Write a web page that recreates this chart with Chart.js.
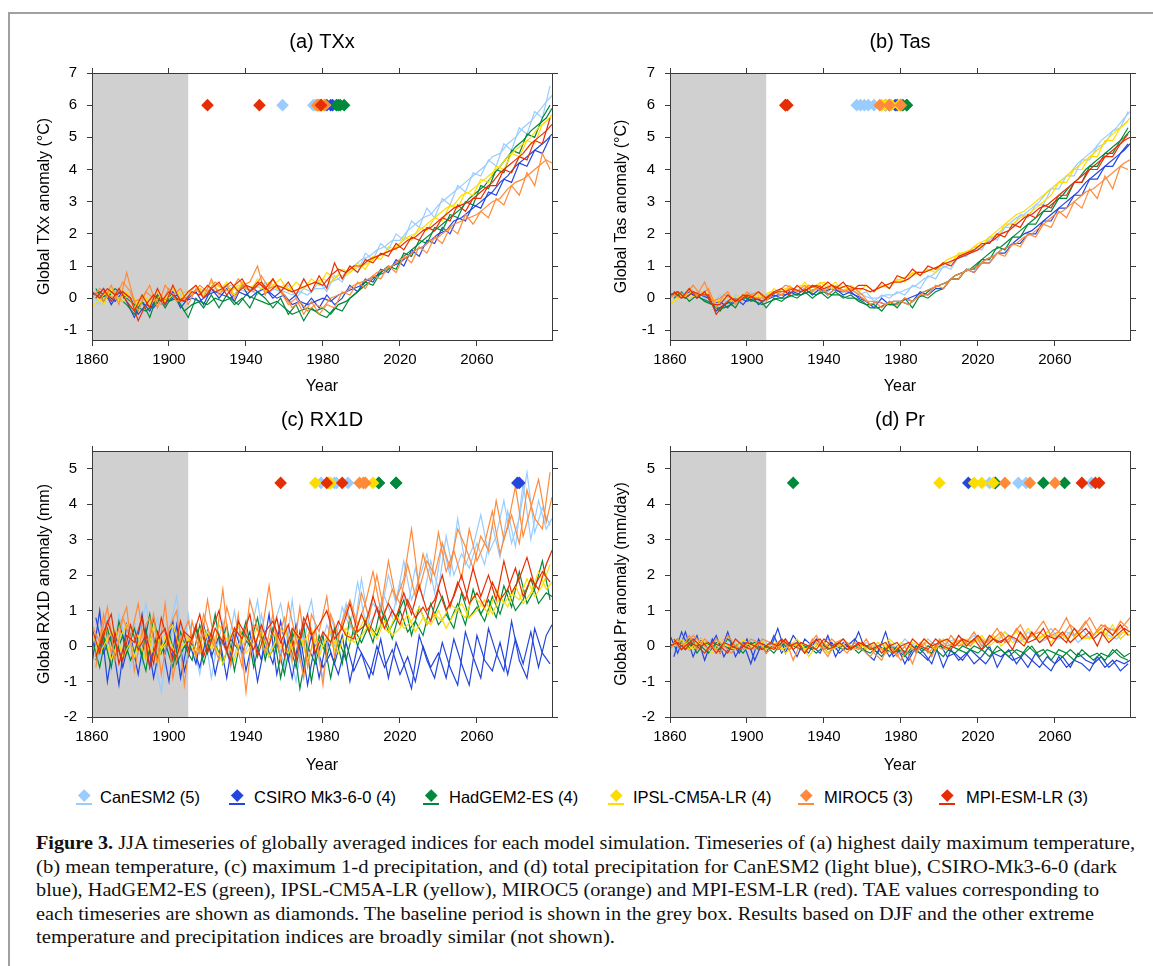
<!DOCTYPE html>
<html>
<head>
<meta charset="utf-8">
<script src="https://cdn.jsdelivr.net/npm/chart.js@4.4.1/dist/chart.umd.min.js"></script>
<style>
html,body{margin:0;padding:0;background:#fff;width:1153px;height:966px;overflow:hidden;position:relative;font-family:"Liberation Sans",Arial,sans-serif;}
.frame{position:absolute;left:8px;top:12px;width:1200px;height:1000px;border-top:2px solid #a0a0a0;border-left:2px solid #a0a0a0;}
canvas{position:absolute;}
.legtxt{position:absolute;font-size:16.5px;line-height:20px;white-space:nowrap;color:#000;}
.legmk{position:absolute;width:8.5px;height:8.5px;transform:rotate(45deg);}
.legln{position:absolute;width:16px;height:1.5px;}
.cap{position:absolute;left:36px;font-family:"Liberation Serif","Times New Roman",serif;font-size:18.5px;line-height:23.5px;white-space:nowrap;color:#111;}
.cap span{display:inline-block;transform-origin:0 50%;}
</style>
</head>
<body>
<div class="frame"></div>
<script>
// ---------------- data ----------------
const MODELS = ["CanESM2 (5)", "CSIRO Mk3-6-0 (4)", "HadGEM2-ES (4)", "IPSL-CM5A-LR (4)", "MIROC5 (3)", "MPI-ESM-LR (3)"];
const COLORS = ["#99ccff", "#2446dc", "#00893b", "#ffdc00", "#ff8a3a", "#e62e05"];
// run 1 sampled years
const YEARS = [1860,1864,1868,1872,1876,1880,1884,1888,1892,1896,1900,1904,1908,
  1912,1916,1920,1924,1928,1932,1936,1940,1944,1948,1952,1956,
  1960,1964,1968,1972,1976,1980,1984,1988,1992,1996,2000,2004,2008,
  2012,2016,2020,2024,2028,2032,2036,2040,2044,2048,2052,2056,
  2060,2064,2068,2072,2076,2080,2084,2088,2092,2096,2099];
// run 2 sampled years
const YEARS2 = [1862,1866,1870,1874,1878,1882,1886,1890,1894,1898,1902,1906,1910,
  1914,1918,1922,1926,1930,1934,1938,1942,1946,1950,1954,1958,
  1962,1966,1970,1974,1978,1982,1986,1990,1994,1998,2002,2006,2010,
  2014,2018,2022,2026,2030,2034,2038,2042,2046,2050,2054,2058,
  2062,2066,2070,2074,2078,2082,2086,2090,2094,2098];
const X_TICKS = [1860,1900,1940,1980,2020,2060];
const Y_TICKS_TEMP = [-1,0,1,2,3,4,5,6,7];
const Y_TICKS_PREC = [-2,-1,0,1,2,3,4,5];
const BASELINE = [1860, 1910];

// (a) TXx, run 1
const TXX_CAN   = [0.1,-0.2,0.1,0.2,0.0,0.1,-0.3,-0.1,0.0,-0.2,0.1,0.0,0.2, 0.2,0.3,0.1,0.3,0.2,0.4,0.3,0.2,0.3,0.4,0.2,0.3, 0.2,0.1,0.2,0.1,0.3,0.3,0.5,0.6,0.8,1.0,1.2,1.3,1.5, 1.6,1.8,1.8,2.1,2.3,2.5,2.6,2.9,3.1,3.3,3.5,3.7, 3.9,4.1,4.4,4.5,4.8,5.0,5.3,5.5,5.8,6.1,6.3];
const TXX_CSIRO = [0.2,0.0,0.1,-0.1,0.2,0.0,-0.5,-0.2,-0.3,0.0,-0.1,0.1,-0.1, 0.0,-0.1,0.1,0.2,0.1,0.0,0.2,0.1,0.3,0.1,0.2,0.0, 0.1,-0.2,-0.1,-0.2,-0.1,0.0,-0.1,0.1,0.2,0.3,0.4,0.6,0.7, 0.9,1.0,1.1,1.3,1.5,1.6,1.8,2.0,2.1,2.4,2.5,2.7, 2.9,3.1,3.3,3.6,3.8,4.1,4.3,4.5,4.7,4.9,5.1];
const TXX_HAD   = [0.1,0.2,0.0,0.3,0.1,-0.1,-0.3,-0.4,-0.2,0.0,-0.1,0.0,-0.4, -0.2,-0.1,-0.2,0.0,-0.1,0.0,-0.2,0.1,0.0,-0.1,-0.2,-0.1, -0.3,-0.5,-0.4,-0.3,-0.4,-0.3,-0.5,-0.2,-0.1,0.1,0.3,0.5,0.7, 0.8,1.0,1.2,1.4,1.6,1.8,2.0,2.2,2.4,2.6,2.8,3.1, 3.3,3.5,3.8,4.1,4.4,4.7,4.9,5.2,5.4,5.6,5.9];
const TXX_IPSL  = [-0.3,0.0,0.2,0.1,-0.1,0.2,-0.2,0.0,-0.1,0.1,0.0,0.2,0.1, 0.2,0.3,0.2,0.4,0.3,0.2,0.4,0.3,0.4,0.3,0.5,0.3, 0.4,0.2,0.3,0.4,0.5,0.6,0.5,0.7,0.7,0.9,1.0,1.1,1.3, 1.4,1.5,1.7,1.9,2.0,2.2,2.4,2.6,2.8,2.9,3.2,3.3, 3.5,3.7,3.9,4.1,4.4,4.6,4.8,5.0,5.3,5.5,5.7];
const TXX_MIROC = [0.0,0.3,0.1,0.0,0.5,0.2,-0.4,0.2,0.0,-0.2,0.3,-0.1,0.0, 0.1,0.4,0.2,0.5,0.3,0.2,0.6,0.3,0.2,0.7,0.3,0.4, 0.1,-0.3,-0.1,-0.4,-0.2,-0.3,0.0,0.1,0.2,0.4,0.5,0.6,0.8, 0.9,1.0,1.2,1.3,1.5,1.6,1.8,1.9,2.1,2.3,2.4,2.5, 2.6,2.8,3.0,3.1,3.4,3.6,3.7,3.9,4.1,4.3,4.2];
const TXX_MPI   = [0.2,0.0,0.3,0.1,0.2,0.0,-0.7,-0.2,0.1,-0.1,0.2,0.0,-0.1, 0.2,0.1,0.4,0.2,0.3,0.5,0.2,0.4,0.3,0.5,0.2,0.4, 0.3,0.2,0.3,0.4,0.5,0.4,0.7,0.9,0.8,1.0,1.0,1.2,1.3, 1.4,1.5,1.6,1.8,1.9,2.1,2.2,2.4,2.6,2.8,2.9,3.0, 3.2,3.4,3.6,3.9,4.1,4.3,4.5,4.8,5.0,5.2,5.4];
// (a) TXx, run 2
const TXX_CAN_2   = [-0.2,0.2,-0.1,0.3,-0.1,-0.4,0.1,-0.3,0.2,-0.1,0.3,-0.2,0.1, 0.4,0.1,0.5,0.2,0.4,0.1,0.5,0.3,0.1,0.5,0.3,0.2, 0.4,0.0,0.3,0.2,0.5,0.2,0.7,0.5,1.0,0.8,1.4,1.2,1.7, 1.5,2.0,1.8,2.4,2.2,2.8,2.5,3.1,2.9,3.5,3.3,3.9, 3.8,4.3,4.1,4.8,4.6,5.3,5.1,5.8,5.6,6.6];
const TXX_CSIRO_2 = [0.0,0.3,-0.2,0.2,-0.1,-0.6,-0.1,-0.4,0.1,-0.2,0.2,-0.3,0.0, 0.2,-0.2,0.3,0.0,0.3,-0.1,0.4,0.0,0.2,0.3,0.0,0.2, -0.1,0.1,-0.3,0.0,-0.3,0.1,-0.2,0.0,0.4,0.2,0.6,0.5,0.9, 0.8,1.2,1.0,1.5,1.3,1.8,1.7,2.2,2.0,2.5,2.4,2.9, 2.8,3.3,3.2,3.7,3.6,4.2,4.1,4.6,4.5,5.0];
const TXX_HAD_2   = [0.3,-0.1,0.2,0.0,-0.2,-0.5,-0.1,-0.6,0.1,-0.3,0.1,-0.2,-0.6, 0.0,-0.3,0.1,-0.3,0.1,-0.2,0.0,-0.3,0.2,0.0,-0.3,0.0, -0.5,-0.2,-0.7,-0.3,-0.5,-0.6,-0.3,-0.4,0.0,0.2,0.5,0.4,0.8, 1.0,0.9,1.4,1.3,1.8,1.7,2.2,2.1,2.6,2.5,3.0,2.9, 3.5,3.4,4.0,3.9,4.6,4.5,5.1,5.0,5.6,6.0];
const TXX_IPSL_2  = [0.1,-0.2,0.3,-0.1,0.2,-0.3,0.1,-0.2,0.2,-0.1,0.3,0.0,0.2, 0.4,0.1,0.5,0.2,0.5,0.1,0.5,0.2,0.6,0.2,0.4,0.6, 0.2,0.5,0.3,0.6,0.4,0.8,0.6,0.9,0.8,1.1,0.9,1.3,1.2, 1.6,1.5,1.9,1.8,2.2,2.1,2.5,2.4,2.9,2.8,3.3,3.2, 3.7,3.6,4.1,4.0,4.5,4.4,4.9,4.8,5.4,5.6];
const TXX_MIROC_2 = [0.2,-0.1,0.4,-0.2,0.8,-0.1,0.0,0.4,-0.3,0.4,0.1,0.3,-0.2, 0.3,0.0,0.6,0.1,0.4,0.0,0.4,0.5,1.0,0.1,0.6,0.2, -0.2,0.0,-0.5,-0.1,-0.5,-0.2,-0.3,0.2,0.1,0.5,0.3,0.7,0.6, 1.0,0.8,1.3,1.1,1.6,1.4,1.9,1.7,2.2,2.0,2.6,2.3, 2.7,2.5,3.1,2.9,3.5,3.2,3.9,3.5,4.5,4.0];
const TXX_MPI_2   = [0.0,0.3,-0.1,0.3,-0.1,-0.4,0.1,-0.3,0.3,-0.2,0.4,-0.1,0.2, 0.4,0.0,0.3,0.5,0.1,0.4,0.6,0.2,0.5,0.3,0.6,0.2, 0.5,0.1,0.6,0.2,0.7,0.3,1.1,0.6,1.0,0.8,1.2,1.1,1.4, 1.3,1.7,1.5,1.9,1.8,2.2,2.1,2.5,2.4,2.9,2.7,3.1, 3.1,3.5,3.5,4.0,3.9,4.4,4.3,4.9,4.8,5.6];

// (b) Tas, run 1
const TAS_CAN   = [0.1,0.0,0.2,0.1,0.2,0.0,-0.3,-0.1,0.0,-0.1,0.1,0.0,0.1, 0.1,0.2,0.1,0.2,0.2,0.3,0.2,0.3,0.3,0.2,0.3,0.2, 0.1,0.0,0.0,0.1,0.1,0.2,0.3,0.4,0.6,0.7,0.9,1.0,1.2, 1.3,1.4,1.6,1.7,1.9,2.1,2.3,2.5,2.6,2.8,3.0,3.3, 3.5,3.7,3.9,4.2,4.4,4.6,4.9,5.1,5.3,5.6,5.8];
const TAS_CSIRO = [0.1,0.2,0.0,0.2,0.1,0.0,-0.4,-0.2,-0.1,0.0,-0.1,0.0,-0.1, 0.0,0.1,0.1,0.2,0.1,0.2,0.3,0.2,0.3,0.2,0.2,0.1, 0.0,-0.2,-0.1,-0.2,-0.1,-0.1,0.0,0.1,0.2,0.3,0.4,0.5,0.7, 0.8,0.9,1.0,1.2,1.3,1.5,1.6,1.8,2.0,2.1,2.3,2.5, 2.7,2.9,3.1,3.3,3.6,3.8,4.0,4.2,4.4,4.6,4.8];
const TAS_HAD   = [0.1,0.1,0.0,0.2,0.0,-0.1,-0.3,-0.3,-0.2,0.0,0.0,-0.1,-0.2, -0.1,0.0,0.0,0.1,0.1,0.2,0.1,0.2,0.1,0.1,0.0,0.0, -0.1,-0.3,-0.3,-0.2,-0.2,-0.1,-0.2,0.0,0.1,0.3,0.4,0.5,0.7, 0.8,0.9,1.1,1.3,1.5,1.6,1.8,2.0,2.2,2.4,2.6,2.8, 3.0,3.2,3.5,3.7,4.0,4.2,4.4,4.6,4.8,5.0,5.2];
const TAS_IPSL  = [-0.2,0.0,0.1,0.2,0.1,0.1,-0.2,0.0,-0.1,0.0,0.1,0.0,0.1, 0.2,0.2,0.3,0.3,0.4,0.3,0.4,0.5,0.3,0.4,0.3,0.3, 0.3,0.2,0.3,0.4,0.5,0.6,0.7,0.8,0.8,0.9,1.0,1.2,1.3, 1.4,1.5,1.7,1.8,2.0,2.2,2.4,2.6,2.7,2.9,3.1,3.3, 3.5,3.7,3.9,4.1,4.3,4.5,4.7,5.0,5.2,5.4,5.6];
const TAS_MIROC = [0.0,0.2,0.1,0.4,0.1,0.3,-0.3,0.1,0.0,-0.1,0.2,0.0,0.0, 0.1,0.2,0.4,0.3,0.2,0.4,0.3,0.2,0.4,0.3,0.2,0.3, 0.1,-0.2,-0.1,-0.2,-0.1,-0.1,-0.2,0.0,0.2,0.3,0.4,0.5,0.7, 0.8,0.9,1.0,1.2,1.3,1.5,1.6,1.7,1.9,2.0,2.2,2.4, 2.6,2.7,2.9,3.1,3.3,3.4,3.6,3.8,4.0,4.2,4.3];
const TAS_MPI   = [0.1,0.2,0.0,0.2,0.1,0.1,-0.5,-0.2,0.0,-0.1,0.1,0.0,-0.1, 0.1,0.2,0.2,0.3,0.2,0.3,0.4,0.3,0.4,0.3,0.4,0.3, 0.3,0.2,0.3,0.4,0.5,0.5,0.6,0.8,0.8,0.9,1.0,1.1,1.2, 1.3,1.4,1.5,1.7,1.8,2.0,2.1,2.3,2.5,2.6,2.8,2.9, 3.1,3.3,3.5,3.7,3.9,4.1,4.3,4.5,4.7,4.9,5.0];
// (b) Tas, run 2
const TAS_CAN_2   = [0.0,0.2,-0.1,0.2,0.0,-0.2,0.1,-0.2,0.1,0.0,0.2,-0.1,0.1, 0.2,0.1,0.3,0.2,0.3,0.1,0.3,0.2,0.4,0.2,0.3,0.1, 0.2,-0.1,0.1,0.0,0.2,0.1,0.4,0.3,0.7,0.6,1.0,0.9,1.3, 1.3,1.6,1.5,1.9,1.8,2.2,2.2,2.6,2.5,2.9,2.9,3.4, 3.4,3.8,3.8,4.3,4.3,4.7,4.8,5.2,5.3,5.8];
const TAS_CSIRO_2 = [0.2,0.0,0.2,0.0,0.2,-0.2,-0.1,-0.3,0.0,-0.2,0.1,-0.2,0.0, 0.1,0.0,0.2,0.1,0.3,0.1,0.3,0.1,0.3,0.1,0.2,0.0, -0.1,-0.3,0.0,-0.2,-0.2,0.0,-0.1,0.2,0.1,0.3,0.3,0.6,0.6, 0.9,0.8,1.1,1.1,1.4,1.4,1.7,1.7,2.0,2.0,2.4,2.4, 2.8,2.8,3.2,3.2,3.7,3.7,4.1,4.1,4.5,4.8];
const TAS_HAD_2   = [0.0,0.2,-0.1,0.1,-0.1,-0.2,-0.4,-0.1,-0.3,0.1,-0.1,0.0,-0.3, 0.0,-0.1,0.1,0.0,0.2,0.0,0.2,0.0,0.2,0.0,0.1,-0.1, -0.2,-0.2,-0.4,-0.1,-0.3,0.0,-0.3,0.1,0.0,0.2,0.3,0.6,0.6, 0.9,0.9,1.2,1.2,1.6,1.5,1.9,1.9,2.3,2.3,2.7,2.7, 3.1,3.1,3.6,3.6,4.1,4.1,4.5,4.5,4.9,5.3];
const TAS_IPSL_2  = [-0.1,0.1,0.0,0.1,0.2,0.0,-0.1,0.1,0.0,0.1,0.0,0.1,0.0, 0.3,0.1,0.4,0.2,0.5,0.2,0.5,0.3,0.5,0.2,0.4,0.2, 0.4,0.2,0.4,0.3,0.6,0.5,0.8,0.7,0.9,0.8,1.1,1.1,1.4, 1.4,1.6,1.6,1.9,1.9,2.3,2.3,2.5,2.6,2.8,3.0,3.2, 3.6,3.6,4.0,4.0,4.4,4.4,4.9,4.9,5.3,5.5];
const TAS_MIROC_2 = [0.1,0.0,0.3,0.1,0.5,-0.1,0.0,0.2,-0.2,0.1,0.1,0.2,-0.1, 0.2,0.1,0.3,0.2,0.4,0.2,0.4,0.1,0.3,0.2,0.3,0.1, -0.1,-0.1,-0.3,-0.1,-0.2,0.0,-0.1,0.1,0.1,0.4,0.3,0.6,0.6, 0.9,0.8,1.1,1.1,1.4,1.3,1.7,1.6,2.0,1.9,2.3,2.2, 2.7,2.5,3.0,2.8,3.4,3.1,3.8,3.4,4.1,4.0];
const TAS_MPI_2   = [0.2,0.0,0.3,0.0,0.2,-0.2,-0.2,0.1,-0.1,0.1,0.0,0.2,0.0, 0.2,0.3,0.1,0.4,0.2,0.4,0.3,0.5,0.3,0.5,0.2,0.4, 0.4,0.2,0.5,0.3,0.7,0.6,0.9,0.7,1.0,0.9,1.1,1.0,1.3, 1.4,1.5,1.7,1.7,2.0,1.9,2.3,2.2,2.6,2.5,2.9,2.8, 3.2,3.2,3.6,3.6,4.0,4.0,4.4,4.4,4.8,5.1];

// (c) RX1D, run 1
const RX_CAN   = [0.3,-0.4,0.8,-0.2,0.5,-0.6,0.2,1.2,-0.3,-1.3,0.4,1.4,-0.5, 0.2,-0.8,0.5,-0.3,0.7,-0.6,0.1,0.4,-0.5,0.9,-0.2,0.3, -0.6,1.3,-0.4,0.6,0.1,-0.9,0.8,0.2,1.2,0.3,1.9,0.6,1.0, 1.4,0.8,1.8,1.1,2.2,1.3,2.4,1.6,3.1,2.0,2.6,2.2, 2.9,2.3,3.4,2.5,3.8,2.8,4.6,3.0,4.1,3.3,3.6];
const RX_CSIRO = [-0.5,1.0,-1.0,0.4,-0.6,0.3,-0.8,0.5,-0.9,0.2,-1.0,0.6,-0.7, 0.1,-0.6,0.4,-0.8,0.2,-0.5,0.7,-0.7,0.3,-0.4,0.9,-0.8, 0.2,-0.9,0.4,-1.1,0.1,-0.6,-0.2,-0.8,0.1,-0.7,-0.2,-0.9,0.0, -0.6,-0.1,-0.8,-0.3,-1.0,0.0,-0.6,-0.2,-0.9,0.2,-0.5,-1.1, 0.3,-0.4,-0.7,0.1,-0.8,0.2,-0.5,0.4,-0.6,0.3,0.6];
const RX_HAD   = [0.2,-0.6,0.5,-0.3,0.3,-0.4,0.1,-0.7,0.8,-0.2,0.4,-0.5,0.0, -0.4,0.6,-0.2,0.9,-0.5,0.2,-0.1,0.7,-0.6,0.3,-0.3,0.1, -0.8,0.4,-1.2,0.0,-0.5,0.3,-0.9,0.2,-0.4,0.5,0.1,0.6,0.3, 0.9,0.2,1.0,0.4,0.7,0.3,1.2,0.6,0.9,0.5,1.5,0.8, 1.1,0.7,1.4,0.9,1.6,1.0,1.3,1.9,1.2,1.5,1.4];
const RX_IPSL  = [0.4,-0.2,0.2,0.5,-0.3,0.1,0.3,-0.4,0.6,-0.1,0.2,-0.3,0.3, 0.1,-0.2,0.4,0.0,-0.5,0.3,0.6,-0.2,0.1,0.4,-0.3,0.2, 0.5,-0.1,0.3,-0.4,0.2,0.0,0.4,-0.2,0.5,0.1,0.3,0.6,0.2, 0.7,0.3,0.5,0.9,0.4,0.8,0.6,1.0,0.5,0.9,1.2,0.8, 1.0,1.3,0.9,1.4,1.1,1.7,1.2,1.5,2.1,1.6,1.8];
const RX_MIROC = [0.6,0.1,1.1,-0.4,0.8,0.2,1.2,-0.3,0.9,-0.8,0.5,1.0,-1.1, 0.7,-0.2,1.3,0.0,1.6,-0.5,0.9,-1.3,0.6,0.3,1.7,0.1, 0.8,-0.4,1.1,-0.6,0.5,-1.1,0.9,0.3,1.0,0.4,1.5,0.8,2.0, 0.9,1.6,1.2,2.3,1.4,2.6,1.8,3.2,2.1,2.7,1.9,3.3, 2.4,2.9,3.8,2.6,3.4,4.5,3.1,3.9,4.7,3.5,4.2];
const RX_MPI   = [0.5,-0.2,0.7,0.1,-0.4,0.6,-0.1,0.3,-0.5,0.8,0.0,-0.3,0.4, 0.2,0.9,-0.2,0.5,0.1,-0.4,0.7,0.3,-0.1,0.6,0.0,0.8, -0.3,0.5,0.2,0.9,-0.2,0.4,0.1,0.7,0.3,0.2,0.9,0.4,1.1, 0.5,1.0,0.6,1.3,0.8,1.1,0.7,1.6,1.0,1.4,2.0,1.2, 1.5,1.1,1.8,1.3,1.6,2.2,1.4,1.9,1.6,2.3,2.7];
// (c) RX1D, run 2
const RX_CAN_2   = [-0.3,0.6,-0.7,0.9,-0.1,0.7,-0.5,0.3,0.8,-0.4,0.5,-0.8,0.9, -0.4,0.6,-0.9,0.3,-0.2,1.0,-0.4,0.2,1.3,-0.3,0.5,1.2, 0.0,-1.0,0.5,1.3,-0.2,0.6,0.0,1.1,0.5,1.8,0.7,1.2,0.9, 2.0,1.2,2.4,1.3,1.9,2.6,1.5,2.9,2.0,3.6,2.3,2.8, 3.7,2.6,3.1,4.1,2.9,3.6,4.9,3.2,3.9,3.4];
const RX_CSIRO_2 = [0.8,-0.2,0.3,-1.1,0.6,-0.3,0.9,-0.6,0.4,-0.2,0.7,-0.9,0.2, -0.5,0.6,-0.3,0.3,-0.9,0.5,-0.2,0.4,-1.0,0.1,-0.5,0.7, -0.4,0.6,-0.7,0.3,-0.9,0.2,-0.5,0.3,-1.0,0.0,-0.4,-0.8,0.2, -0.9,0.1,-0.5,-1.2,0.3,-0.4,-0.9,0.1,-0.6,-1.1,0.4,-0.3, -0.9,0.5,-0.2,-0.7,0.7,-0.4,-0.9,0.5,-0.2,-0.5];
const RX_HAD_2   = [-0.4,0.3,-0.6,0.7,-0.2,0.5,-0.3,0.9,-0.4,0.1,-0.6,0.4,-0.2, 0.5,-0.5,0.3,-0.2,0.6,-0.7,0.4,0.0,0.8,-0.4,0.5,-0.9, 0.2,-0.6,0.6,-1.0,0.3,-0.3,0.5,-0.5,0.8,0.0,0.7,0.1,1.1, 0.4,0.8,1.3,0.3,1.1,0.6,0.9,1.4,0.7,1.2,0.6,1.6, 0.9,1.3,0.8,1.7,1.1,2.1,1.2,1.6,2.4,1.3];
const RX_IPSL_2  = [-0.2,0.5,-0.4,0.2,0.6,-0.3,0.4,0.1,-0.5,0.3,0.6,-0.1,0.2, -0.3,0.5,-0.1,0.6,0.2,-0.4,0.3,0.1,0.5,-0.2,0.4,0.0, -0.2,0.4,0.1,0.5,-0.3,0.3,-0.1,0.6,0.1,0.4,0.8,0.3,0.6, 0.4,0.9,0.5,0.7,1.1,0.6,0.9,0.7,1.2,1.0,0.8,1.4, 1.2,0.9,1.6,1.2,1.5,1.3,1.9,1.4,1.7,2.3];
const RX_MIROC_2 = [-0.6,0.9,-0.2,0.5,1.1,-0.7,0.4,0.8,-0.5,1.2,-0.9,0.2,0.7, -0.3,0.9,0.2,-0.4,1.1,0.3,-0.6,1.3,0.5,-0.2,0.9,-0.4, 1.2,0.2,-0.9,0.9,0.4,1.4,-0.3,0.7,1.3,0.6,1.2,2.1,1.0, 2.4,1.3,1.9,3.3,1.6,2.4,2.0,2.9,2.2,3.3,2.8,2.2, 3.1,2.7,4.1,3.0,3.7,2.9,4.4,3.6,3.3,4.9];
const RX_MPI_2   = [-0.3,0.4,0.9,-0.5,0.3,0.1,0.8,-0.6,0.2,0.5,-0.4,0.7,-0.1, 0.6,-0.3,0.4,1.0,-0.1,0.5,0.2,0.9,-0.3,0.4,0.7,0.1, 0.6,-0.4,0.8,0.3,0.6,1.0,0.2,0.5,1.2,0.4,0.6,1.4,0.7, 1.2,0.8,1.5,0.9,1.7,1.0,1.3,2.0,1.1,1.8,1.3,2.2, 1.4,2.0,1.3,2.4,1.5,1.9,2.5,1.7,2.1,1.8];

// (d) Pr, run 1
const PR_CAN   = [0.1,-0.1,0.2,0.0,0.1,-0.1,0.0,0.2,-0.1,0.1,0.0,-0.1,0.2, 0.0,0.1,-0.1,0.1,0.0,0.0,0.1,-0.1,0.0,0.1,-0.1,0.0, 0.0,-0.1,0.1,-0.2,0.0,-0.1,0.1,0.0,-0.1,0.1,0.0,0.1,0.2, 0.0,0.1,0.2,0.0,0.2,0.1,0.3,0.1,0.2,0.3,0.1,0.2, 0.3,0.2,0.4,0.1,0.3,0.2,0.4,0.3,0.2,0.4,0.3];
const PR_CSIRO = [0.3,-0.2,0.4,-0.3,0.2,-0.1,0.3,-0.3,0.1,-0.2,0.2,-0.4,0.1, -0.1,0.5,-0.2,0.3,0.0,-0.2,0.2,-0.1,0.1,-0.2,0.0,0.2, -0.1,0.0,-0.2,0.4,-0.3,-0.1,-0.4,0.0,-0.2,-0.5,0.1,-0.3,-0.2, -0.4,-0.1,-0.3,-0.5,-0.2,-0.3,-0.1,-0.5,-0.2,-0.4,-0.6,-0.3, -0.5,-0.3,-0.6,-0.2,-0.4,-0.5,-0.3,-0.6,-0.4,-0.5,-0.4];
const PR_HAD   = [0.0,0.2,-0.1,0.1,0.0,-0.2,0.1,0.0,-0.1,0.1,0.0,0.1,-0.1, 0.0,-0.1,0.1,0.0,-0.1,0.0,-0.2,0.0,-0.1,0.1,-0.1,0.0, -0.1,-0.2,0.0,-0.1,-0.2,-0.1,-0.2,0.0,-0.1,-0.2,0.0,-0.1,-0.2, 0.0,-0.1,-0.2,0.0,-0.2,-0.1,-0.3,-0.1,-0.2,0.0,-0.3,-0.1, -0.2,-0.3,-0.1,-0.3,-0.2,-0.4,-0.2,-0.3,-0.1,-0.3,-0.2];
const PR_IPSL  = [0.1,0.0,0.1,-0.1,0.2,0.0,-0.1,0.1,0.0,0.1,-0.1,0.0,0.1, 0.0,0.1,-0.2,0.0,0.1,-0.3,0.0,0.1,-0.1,0.0,0.1,-0.1, 0.0,-0.1,0.1,0.0,-0.2,0.1,0.0,-0.1,0.2,0.0,0.1,-0.1,0.2, 0.1,0.0,0.2,0.1,0.3,0.0,0.2,0.4,0.1,0.3,0.2,0.4, 0.2,0.3,0.1,0.4,0.2,0.3,0.5,0.2,0.3,0.4,0.3];
const PR_MIROC = [-0.1,0.2,0.0,0.3,0.1,-0.1,0.2,0.0,-0.2,0.1,0.0,-0.1,0.2, 0.1,-0.1,0.2,-0.4,0.1,0.0,0.3,-0.1,0.2,0.0,-0.2,0.1, -0.1,-0.3,0.0,-0.2,-0.1,-0.4,0.0,-0.2,0.1,-0.3,0.2,0.0,0.1, 0.2,0.0,0.3,0.1,0.2,0.4,0.1,0.5,0.2,0.3,0.4,0.2, 0.5,0.3,0.6,0.4,0.7,0.3,0.6,0.5,0.4,0.6,0.8];
const PR_MPI   = [0.0,0.1,-0.1,0.2,0.0,0.1,-0.2,0.1,0.0,-0.1,0.1,0.0,-0.1, 0.1,0.0,0.2,-0.1,0.1,0.0,-0.1,0.2,0.0,0.1,-0.1,0.0, 0.1,-0.1,0.0,0.1,-0.2,0.0,0.1,-0.1,0.2,0.0,0.1,0.2,0.0, 0.2,0.1,0.3,0.0,0.2,0.1,0.3,0.2,0.0,0.4,0.1,0.3, 0.2,0.4,0.1,0.3,0.5,0.2,0.4,0.1,0.3,0.5,0.4];
// (d) Pr, run 2
const PR_CAN_2   = [-0.1,0.2,0.0,-0.2,0.1,0.2,-0.1,0.0,0.1,-0.2,0.2,0.0,-0.1, 0.2,-0.1,0.1,0.0,-0.2,0.1,0.0,0.2,-0.1,0.0,0.1,-0.1, 0.1,0.0,-0.2,0.1,-0.1,0.2,0.0,-0.1,0.2,0.0,0.2,0.0,0.3, 0.1,0.3,0.0,0.3,0.1,0.4,0.2,0.1,0.4,0.2,0.3,0.5, 0.2,0.4,0.3,0.5,0.2,0.4,0.3,0.5,0.2,0.4];
const PR_CSIRO_2 = [-0.3,0.4,-0.1,0.3,-0.4,0.2,-0.2,0.4,-0.3,0.1,-0.5,0.2,-0.2, 0.3,-0.2,0.1,-0.3,0.2,0.0,-0.2,0.3,-0.3,0.1,-0.1,0.4, -0.2,-0.4,0.1,-0.3,0.0,-0.5,-0.1,-0.2,-0.4,0.0,-0.6,-0.1,-0.4, -0.2,-0.5,-0.3,0.0,-0.6,-0.2,-0.4,-0.3,-0.6,-0.2,-0.5,-0.7, -0.3,-0.6,-0.4,-0.5,-0.7,-0.3,-0.6,-0.4,-0.7,-0.5];
const PR_HAD_2   = [0.1,-0.1,0.2,-0.2,0.1,0.0,-0.1,0.2,0.0,-0.2,0.1,-0.1,0.0, -0.2,0.1,-0.1,0.1,0.0,-0.1,0.1,-0.2,0.0,-0.1,0.0,-0.2, 0.0,-0.1,-0.3,0.0,-0.1,-0.3,0.0,-0.2,0.0,-0.1,-0.3,0.0,-0.1, -0.2,0.0,-0.1,-0.3,0.0,-0.2,-0.1,-0.3,0.0,-0.2,-0.1,-0.4, -0.1,-0.2,-0.4,-0.1,-0.3,-0.2,-0.4,-0.1,-0.3,-0.4];
const PR_IPSL_2  = [0.0,0.2,-0.1,0.1,0.0,-0.2,0.2,0.0,-0.1,0.2,0.0,0.1,-0.1, 0.1,-0.1,0.0,0.2,-0.1,0.0,0.1,-0.2,0.1,0.0,-0.1,0.1, -0.1,0.1,-0.1,0.2,0.0,-0.2,0.1,0.0,0.1,-0.1,0.2,0.1,0.0, 0.2,0.1,0.3,0.0,0.2,0.4,0.1,0.2,0.5,0.2,0.3,0.1, 0.4,0.2,0.5,0.3,0.2,0.4,0.3,0.6,0.2,0.4];
const PR_MIROC_2 = [0.1,-0.1,0.3,-0.1,0.2,0.0,-0.2,0.3,0.0,-0.1,0.2,0.1,-0.2, 0.0,0.2,-0.1,0.1,-0.2,0.2,0.0,-0.3,0.1,0.2,0.0,-0.1, 0.2,-0.2,-0.4,0.1,-0.3,0.0,-0.5,0.1,-0.2,0.0,-0.1,0.3,0.0, 0.1,0.4,0.0,0.2,0.5,0.1,0.3,0.6,0.2,0.4,0.7,0.3, 0.4,0.8,0.3,0.5,0.8,0.4,0.6,0.3,0.7,0.5];
const PR_MPI_2   = [0.2,-0.1,0.1,0.0,-0.2,0.1,0.0,-0.2,0.2,0.0,-0.1,0.1,0.0, -0.1,0.2,0.0,0.1,-0.2,0.1,0.2,-0.1,0.0,0.2,-0.1,0.1, 0.0,0.1,-0.2,0.0,0.1,-0.2,0.2,0.0,-0.1,0.2,0.0,-0.1,0.3, 0.0,0.2,-0.1,0.3,0.1,0.2,-0.1,0.4,0.1,0.2,0.5,0.0, 0.3,0.1,0.5,0.2,0.4,0.0,0.5,0.3,0.6,0.3];

// TAE years (diamonds), per model
const TAE_TXX = [[1959,1975,1976,1977,1978],[1979,1982,1984,1985],[1987,1988,1989,1991],[1977,1978,1980,1981],[1977,1978,1981],[1920,1947,1979]];
const TAE_TAS = [[1957,1959,1961,1963,1966],[1972,1974,1977,1978],[1980,1981,1983,1983],[1970,1972,1975,1979],[1969,1974,1980],[1920,1920,1921]];
const TAE_RX  = [[1979,1983,1987,1993,1986],[2081,2082],[2009,2009,2018,2018],[1976,1983,1984,2006],[1999,2001,2002],[1958,1982,1990]];
const TAE_PR  = [[2026,2041,2045,2079],[2015,2029],[1924,2029,2054,2065],[2000,2018,2022,2028],[2034,2047,2060],[2074,2081,2083]];
const TAE_LEVEL_TEMP = 6;
const TAE_LEVEL_PREC = 4.6;

// ---------------- chart ----------------
const FONT = '"Liberation Sans", Arial, sans-serif';
Chart.defaults.font.family = FONT;
Chart.defaults.color = '#000';
const AX = '#3a3a3a';

const baselinePlugin = {
  id: 'baseline',
  beforeDatasetsDraw(chart) {
    const {ctx, chartArea: a, scales: {x}} = chart;
    const x0 = x.getPixelForValue(BASELINE[0]);
    const x1 = x.getPixelForValue(BASELINE[1]);
    ctx.save();
    ctx.fillStyle = '#d0d0d0';
    ctx.fillRect(x0, a.top, x1 - x0, a.bottom - a.top);
    ctx.restore();
  }
};

function setTicks(list) { return s => { s.ticks = list.map(v => ({value: v})); }; }

function makePanel(p) {
  const cv = document.createElement('canvas');
  cv.width = p.w; cv.height = p.h;
  cv.style.left = p.x0 + 'px'; cv.style.top = p.y0 + 'px';
  document.body.appendChild(cv);
  const datasets = [];
  p.series.forEach((arr, k) => {
    datasets.push({
      type: 'line', label: MODELS[k],
      data: YEARS.map((yr, i) => ({x: yr, y: arr[i]})),
      borderColor: COLORS[k], borderWidth: 1.2, pointRadius: 0, tension: 0,
      order: 10 + (5 - k), xAxisID: 'x', yAxisID: 'y'
    });
    datasets.push({
      type: 'line', label: MODELS[k] + ' run 2',
      data: YEARS2.map((yr, i) => ({x: yr, y: p.series2[k][i]})),
      borderColor: COLORS[k], borderWidth: 1.2, pointRadius: 0, tension: 0,
      order: 10 + (5 - k), xAxisID: 'x', yAxisID: 'y'
    });
  });
  p.tae.forEach((arr, k) => {
    datasets.push({
      type: 'scatter', label: MODELS[k] + ' TAE',
      data: arr.map(v => ({x: v, y: p.level})),
      backgroundColor: COLORS[k], borderColor: COLORS[k], borderWidth: 0,
      pointStyle: 'rectRot', pointRadius: 6.3, order: 5 - k, xAxisID: 'x', yAxisID: 'y'
    });
  });
  const grid = len => ({drawOnChartArea: false, drawTicks: true, tickLength: len, color: AX, lineWidth: 1});
  const border = {display: true, color: AX, width: 1, z: 1};
  new Chart(cv, {
    data: {datasets},
    plugins: [baselinePlugin],
    options: {
      responsive: false, maintainAspectRatio: false, animation: false,
      layout: {padding: 0},
      plugins: {legend: {display: false}, tooltip: {enabled: false}, title: {display: false}},
      scales: {
        x: {type: 'linear', position: 'bottom', min: 1860, max: 2099,
          afterBuildTicks: setTicks(X_TICKS), afterFit: s => { s.height = p.B; },
          grid: grid(6), border,
          ticks: {font: {size: 15}, color: '#000', padding: 5, maxRotation: 0, autoSkip: false, callback: v => String(v)},
          title: {display: true, text: 'Year', font: {size: 16}, color: '#000', padding: {top: 0, bottom: p.pb}}},
        x2: {type: 'linear', position: 'top', min: 1860, max: 2099,
          afterBuildTicks: setTicks(X_TICKS), afterFit: s => { s.height = p.T; },
          grid: grid(5), border, ticks: {display: false},
          title: {display: true, text: p.title, font: {size: 20}, color: '#000', padding: {top: p.pt, bottom: 0}}},
        y: {type: 'linear', position: 'left', min: p.ymin, max: p.ymax,
          afterBuildTicks: setTicks(p.yticks), afterFit: s => { s.width = p.L; },
          grid: grid(5), border,
          ticks: {font: {size: 15}, color: '#000', padding: 10, autoSkip: false, callback: v => String(v)},
          title: {display: true, text: p.ylabel, font: {size: 16}, color: '#000', padding: {top: p.pyt, bottom: 0}}},
        y2: {type: 'linear', position: 'right', min: p.ymin, max: p.ymax,
          afterBuildTicks: setTicks(p.yticks), afterFit: s => { s.width = p.R; },
          grid: grid(6), border, ticks: {display: false}}
      }
    }
  });
}

makePanel({x0: 0, y0: 14, w: 572, h: 386, L: 92, R: 20, T: 59, B: 60, pt: 16, pb: 3.4, pyt: 35.4,
  title: '(a) TXx', ylabel: 'Global TXx anomaly (°C)', ymin: -1.3, ymax: 7, yticks: Y_TICKS_TEMP,
  series: [TXX_CAN, TXX_CSIRO, TXX_HAD, TXX_IPSL, TXX_MIROC, TXX_MPI],
  series2: [TXX_CAN_2, TXX_CSIRO_2, TXX_HAD_2, TXX_IPSL_2, TXX_MIROC_2, TXX_MPI_2], tae: TAE_TXX, level: TAE_LEVEL_TEMP});
makePanel({x0: 580, y0: 14, w: 570, h: 386, L: 90, R: 20, T: 59, B: 60, pt: 16, pb: 3.4, pyt: 32.4,
  title: '(b) Tas', ylabel: 'Global Tas anomaly (°C)', ymin: -1.3, ymax: 7, yticks: Y_TICKS_TEMP,
  series: [TAS_CAN, TAS_CSIRO, TAS_HAD, TAS_IPSL, TAS_MIROC, TAS_MPI],
  series2: [TAS_CAN_2, TAS_CSIRO_2, TAS_HAD_2, TAS_IPSL_2, TAS_MIROC_2, TAS_MPI_2], tae: TAE_TAS, level: TAE_LEVEL_TEMP});
makePanel({x0: 0, y0: 392, w: 572, h: 385, L: 92, R: 20, T: 59, B: 60, pt: 16, pb: 1.4, pyt: 35.4,
  title: '(c) RX1D', ylabel: 'Global RX1D anomaly (mm)', ymin: -2, ymax: 5.5, yticks: Y_TICKS_PREC,
  series: [RX_CAN, RX_CSIRO, RX_HAD, RX_IPSL, RX_MIROC, RX_MPI],
  series2: [RX_CAN_2, RX_CSIRO_2, RX_HAD_2, RX_IPSL_2, RX_MIROC_2, RX_MPI_2], tae: TAE_RX, level: TAE_LEVEL_PREC});
makePanel({x0: 580, y0: 392, w: 570, h: 385, L: 90, R: 20, T: 59, B: 60, pt: 16, pb: 1.4, pyt: 32.4,
  title: '(d) Pr', ylabel: 'Global Pr anomaly (mm/day)', ymin: -2, ymax: 5.5, yticks: Y_TICKS_PREC,
  series: [PR_CAN, PR_CSIRO, PR_HAD, PR_IPSL, PR_MIROC, PR_MPI],
  series2: [PR_CAN_2, PR_CSIRO_2, PR_HAD_2, PR_IPSL_2, PR_MIROC_2, PR_MPI_2], tae: TAE_PR, level: TAE_LEVEL_PREC});

// ---------------- legend ----------------
const LEG_MARK_X = [84, 237, 431, 616, 806, 947];
const LEG_TEXT_X = [100, 254, 449, 633, 824, 966];
MODELS.forEach((m, k) => {
  const mk = document.createElement('div');
  mk.className = 'legmk'; mk.style.background = COLORS[k];
  mk.style.left = (LEG_MARK_X[k] - 4.25) + 'px'; mk.style.top = (795 - 4.25) + 'px';
  document.body.appendChild(mk);
  const ln = document.createElement('div');
  ln.className = 'legln'; ln.style.background = COLORS[k];
  ln.style.left = (LEG_MARK_X[k] - 8) + 'px'; ln.style.top = '803px';
  document.body.appendChild(ln);
  const tx = document.createElement('div');
  tx.className = 'legtxt'; tx.textContent = m;
  tx.style.left = LEG_TEXT_X[k] + 'px'; tx.style.top = '787px';
  document.body.appendChild(tx);
});

// ---------------- caption ----------------
const CAPTION = [
  '<b>Figure 3.</b> JJA timeseries of globally averaged indices for each model simulation. Timeseries of (a) highest daily maximum temperature,',
  '(b) mean temperature, (c) maximum 1-d precipitation, and (d) total precipitation for CanESM2 (light blue), CSIRO-Mk3-6-0 (dark',
  'blue), HadGEM2-ES (green), IPSL-CM5A-LR (yellow), MIROC5 (orange) and MPI-ESM-LR (red). TAE values corresponding to',
  'each timeseries are shown as diamonds. The baseline period is shown in the grey box. Results based on DJF and the other extreme',
  'temperature and precipitation indices are broadly similar (not shown).'
];
const CAP_W = [1099, 1081, 1063, 1058, 579];
const CAP_Y = [844, 867.5, 891, 914.5, 938];
CAPTION.forEach((html, i) => {
  const d = document.createElement('div');
  d.className = 'cap';
  d.style.top = (CAP_Y[i] - 11.75) + 'px';
  const s = document.createElement('span');
  s.innerHTML = html;
  d.appendChild(s);
  document.body.appendChild(d);
  const w = s.getBoundingClientRect().width;
  if (w > 0) s.style.transform = 'scaleX(' + (CAP_W[i] / w).toFixed(4) + ')';
});
</script>
</body>
</html>
